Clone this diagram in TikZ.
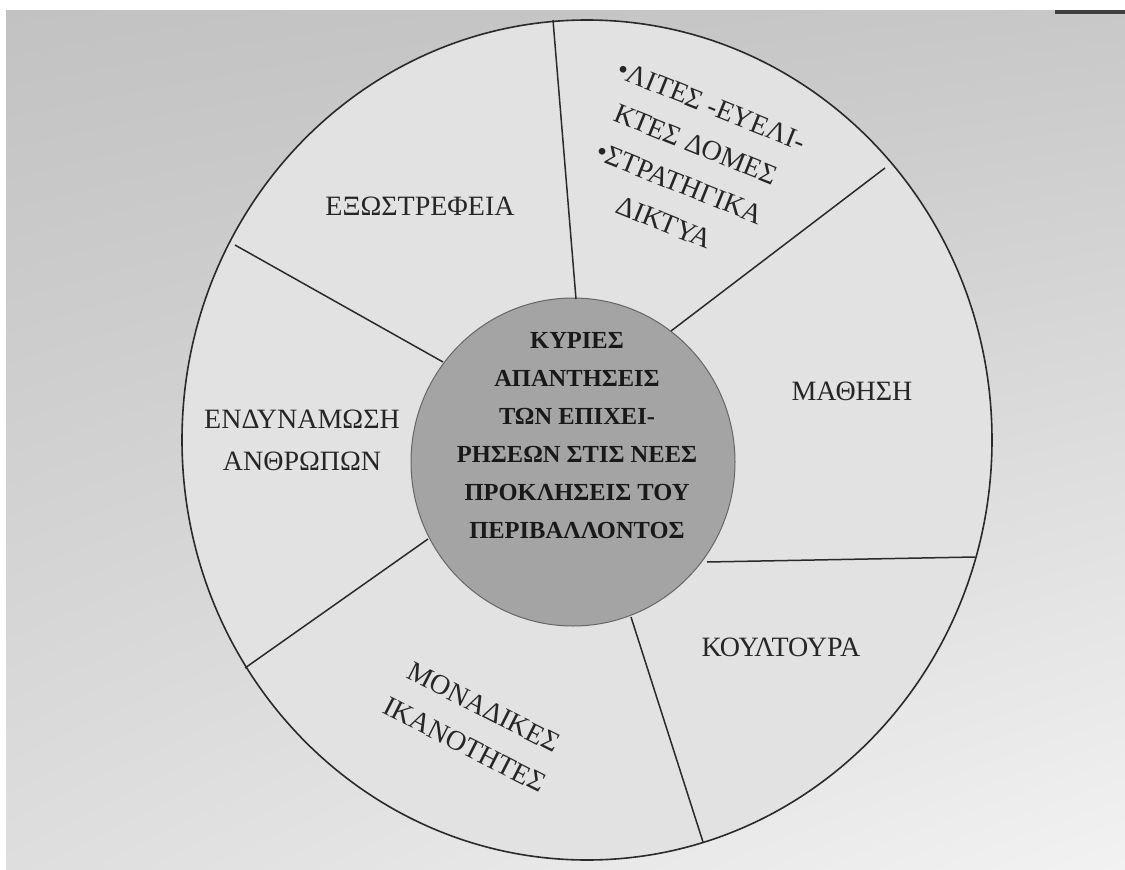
\documentclass[tikz,border=0pt]{standalone}
\usepackage{fontspec}
\setmainfont{Liberation Serif}
\usetikzlibrary{shadings}
\begin{document}
\begin{tikzpicture}[x=1pt,y=-1pt]
\definecolor{bgul}{HTML}{C2C2C2}
\definecolor{bgur}{HTML}{C8C8C8}
\definecolor{bgll}{HTML}{DEDEDE}
\definecolor{bglr}{HTML}{F2F2F2}
\definecolor{segfill}{HTML}{E2E2E2}
\definecolor{corefill}{HTML}{A4A4A4}
\definecolor{inkline}{HTML}{2A2A2A}
\tikzset{
  spoke/.style={draw=inkline, line width=1.5pt},
  lbl/.style={font=\fontsize{28}{42}\selectfont, text=black!85, align=center, inner sep=0pt},
  corelbl/.style={font=\bfseries\fontsize{24.5}{38}\selectfont, text=black!90, align=center, inner sep=0pt}
}
\useasboundingbox (0,0) rectangle (1125,870);
\fill[white] (0,0) rectangle (1125,870);
\shade[upper left=bgul, upper right=bgur, lower left=bgll, lower right=bglr] (6,10) rectangle (1125,870);
\fill[black!75] (1055,10) rectangle (1125,14);
% outer disc
\draw[draw=inkline, line width=1.6pt, fill=segfill] (587,440) ellipse [x radius=405pt, y radius=420pt];
% inner disc
\draw[draw=black!60, line width=1pt, fill=corefill] (573,462) ellipse [x radius=162pt, y radius=164pt];
% spoke end points
\coordinate (o1) at (553,20);  \coordinate (i1) at (576,299);
\coordinate (o2) at (885,168); \coordinate (i2) at (671,331);
\coordinate (o3) at (975,557); \coordinate (i3) at (707,562);
\coordinate (o4) at (703,842); \coordinate (i4) at (631,617);
\coordinate (o5) at (245,668); \coordinate (i5) at (428,539);
\coordinate (o6) at (235,245); \coordinate (i6) at (443,362);
\foreach \k in {1,...,6} { \draw[spoke] (o\k) -- (i\k); }
% labels
\node[corelbl] (core) at (577,436) {ΚΥΡΙΕΣ\\ΑΠΑΝΤΗΣΕΙΣ\\ΤΩΝ ΕΠΙΧΕΙ-\\ΡΗΣΕΩΝ ΣΤΙΣ ΝΕΕΣ\\ΠΡΟΚΛΗΣΕΙΣ ΤΟΥ\\ΠΕΡΙΒΑΛΛΟΝΤΟΣ};
\node[lbl] (extro) at (420,206) {ΕΞΩΣΤΡΕΦΕΙΑ};
\node[lbl, rotate=-22] (lean) at (688,164) {•ΛΙΤΕΣ -ΕΥΕΛΙ-\\ΚΤΕΣ ΔΟΜΕΣ\\•ΣΤΡΑΤΗΓΙΚΑ\\ΔΙΚΤΥΑ};
\node[lbl] (learn) at (852,391) {ΜΑΘΗΣΗ};
\node[lbl] (cult) at (781,647) {ΚΟΥΛΤΟΥΡΑ};
\node[lbl, rotate=-27] (uniq) at (474,726) {ΜΟΝΑΔΙΚΕΣ\\ΙΚΑΝΟΤΗΤΕΣ};
\node[lbl] (empow) at (302,440) {ΕΝΔΥΝΑΜΩΣΗ\\ΑΝΘΡΩΠΩΝ};
\end{tikzpicture}
\end{document}
